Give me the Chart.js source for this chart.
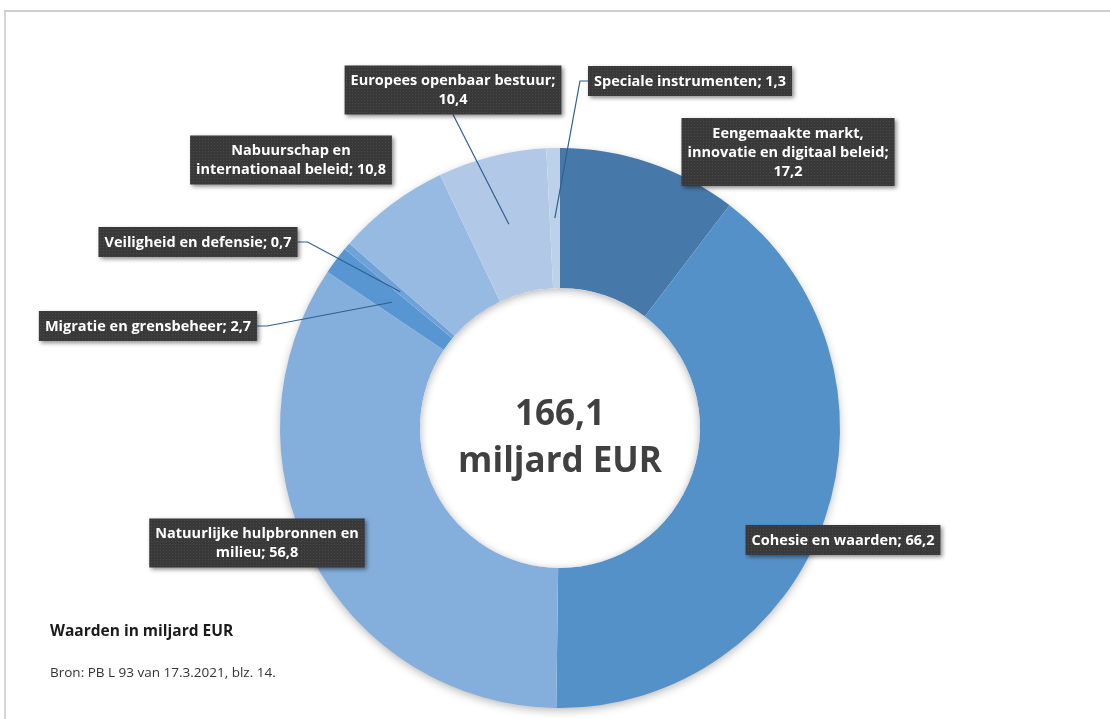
<!DOCTYPE html>
<html lang="nl">
<head>
<meta charset="utf-8">
<title>Begroting 2021</title>
<script src="https://cdn.jsdelivr.net/npm/chart.js@4.4.1/dist/chart.umd.min.js"></script>
<style>
  html, body { margin: 0; padding: 0; background: #fff; }
  #wrap { position: relative; width: 1110px; height: 719px; overflow: hidden; }
  #frame { position: absolute; left: 4px; top: 10px; right: -4px; bottom: -4px;
           border-top: 2px solid #cfcfcf; border-left: 2px solid #d6d6d6; }
  canvas { position: absolute; left: 0; top: 0; }
</style>
</head>
<body>
<div id="wrap">
  <div id="frame"></div>
  <canvas id="chart" width="1110" height="719"></canvas>
</div>
<script>
// Data for the chart (clockwise from the top)
const categories = [
  "Eengemaakte markt, innovatie en digitaal beleid",
  "Cohesie en waarden",
  "Natuurlijke hulpbronnen en milieu",
  "Migratie en grensbeheer",
  "Veiligheid en defensie",
  "Nabuurschap en internationaal beleid",
  "Europees openbaar bestuur",
  "Speciale instrumenten"
];
const values = [17.2, 66.2, 56.8, 2.7, 0.7, 10.8, 10.4, 1.3];
const centreText = ["166,1", "miljard EUR"];
const footNote = "Waarden in miljard EUR";
const source = "Bron: PB L 93 van 17.3.2021, blz. 14.";

const colors = ["#4679a9", "#5591c9", "#84afdd", "#5796d0", "#6fa3d8", "#97bae2", "#b1c9e7", "#bdd1eb"];

// words per line before each line break in the data labels
const labelBreaks = [[2, 4], [], [3], [], [], [2], [3], []];

// label box centres, and the side the leader line leaves from
const labelPlacement = [
  { x: 788, y: 152, side: null },
  { x: 843, y: 540, side: null },
  { x: 257, y: 543, side: null },
  { x: 148, y: 326, side: "right" },
  { x: 198, y: 242, side: "right" },
  { x: 291, y: 160, side: null },
  { x: 453, y: 90,  side: "bottom" },
  { x: 690, y: 81,  side: "left" }
];

const fmt = v => v.toFixed(1).replace(".", ",");

function labelLines(i) {
  const words = (categories[i] + "; " + fmt(values[i])).split(" ");
  const lines = [];
  let k = 0;
  labelBreaks[i].forEach(n => { lines.push(words.slice(k, k + n).join(" ")); k += n; });
  lines.push(words.slice(k).join(" "));
  return lines;
}

// dotted dark fill like the original label boxes
const pc = document.createElement("canvas");
pc.width = 3; pc.height = 3;
const pctx = pc.getContext("2d");
pctx.fillStyle = "#393939"; pctx.fillRect(0, 0, 3, 3);
pctx.fillStyle = "#4a4a4a"; pctx.fillRect(1, 1, 1, 1);

const ringShadow = {
  id: "ringShadow",
  beforeDatasetsDraw(chart) {
    const ctx = chart.ctx;
    const a = chart.getDatasetMeta(0).data[0];
    ctx.save();
    ctx.shadowColor = "rgba(0,0,0,0.30)";
    ctx.shadowBlur = 10;
    ctx.shadowOffsetY = 3;
    ctx.beginPath();
    ctx.arc(a.x, a.y, a.outerRadius - 1, 0, Math.PI * 2);
    ctx.fillStyle = "#fff";
    ctx.fill();
    ctx.restore();
  },
  afterDatasetsDraw(chart) {
    const ctx = chart.ctx;
    const a = chart.getDatasetMeta(0).data[0];
    ctx.save();
    ctx.beginPath();
    ctx.arc(a.x, a.y, a.innerRadius, 0, Math.PI * 2);
    ctx.clip();
    ctx.shadowColor = "rgba(0,0,0,0.30)";
    ctx.shadowBlur = 9;
    ctx.shadowOffsetY = 2;
    ctx.beginPath();
    ctx.arc(a.x, a.y, a.innerRadius + 10, 0, Math.PI * 2);
    ctx.lineWidth = 20;
    ctx.strokeStyle = "#fff";
    ctx.stroke();
    ctx.restore();
  }
};

const calloutLabels = {
  id: "calloutLabels",
  afterDraw(chart) {
    const ctx = chart.ctx;
    const arcs = chart.getDatasetMeta(0).data;
    const lineH = 19;
    ctx.save();
    ctx.font = "bold 14.5px 'Open Sans'";
    const pattern = ctx.createPattern(pc, "repeat");

    const boxes = labelPlacement.map((p, i) => {
      const lines = labelLines(i);
      const w = Math.max(...lines.map(l => ctx.measureText(l).width)) + 12;
      const h = lines.length * lineH + 11;
      return { lines, w, h, left: p.x - w / 2, top: p.y - h / 2, p };
    });

    // leader lines
    ctx.strokeStyle = "#2e5f8f";
    ctx.lineWidth = 1.2;
    boxes.forEach((b, i) => {
      if (!b.p.side) return;
      const c = arcs[i].getCenterPoint();
      ctx.beginPath();
      if (b.p.side === "right") {
        ctx.moveTo(b.left + b.w, b.p.y);
        ctx.lineTo(b.left + b.w + 10, b.p.y);
      } else if (b.p.side === "left") {
        ctx.moveTo(b.left, b.p.y);
        ctx.lineTo(b.left - 8, b.p.y);
      } else {
        ctx.moveTo(b.p.x, b.top + b.h);
      }
      ctx.lineTo(c.x, c.y);
      ctx.stroke();
    });

    // boxes and text
    boxes.forEach(b => {
      ctx.save();
      ctx.shadowColor = "rgba(0,0,0,0.45)";
      ctx.shadowBlur = 4;
      ctx.shadowOffsetX = 2;
      ctx.shadowOffsetY = 2;
      ctx.fillStyle = pattern;
      ctx.fillRect(b.left, b.top, b.w, b.h);
      ctx.restore();
      ctx.fillStyle = "#ffffff";
      ctx.textAlign = "center";
      ctx.textBaseline = "middle";
      b.lines.forEach((l, k) => {
        ctx.fillText(l, b.p.x, b.top + 5.5 + lineH * (k + 0.5) + 0.5);
      });
    });

    // centre text
    const a = arcs[0];
    ctx.fillStyle = "#404040";
    ctx.textAlign = "center";
    ctx.textBaseline = "alphabetic";
    ctx.font = "bold 35px 'Open Sans'";
    ctx.fillText(centreText[0], a.x, 425);
    ctx.fillText(centreText[1], a.x, 472);

    // notes
    ctx.textAlign = "left";
    ctx.fillStyle = "#1a1a1a";
    ctx.font = "bold 15.5px 'Open Sans'";
    ctx.fillText(footNote, 50, 636);
    ctx.fillStyle = "#333";
    ctx.font = "13.5px 'Open Sans'";
    ctx.fillText(source, 50, 677);
    ctx.restore();
  }
};

const config = {
  type: "doughnut",
  data: {
    labels: categories,
    datasets: [{
      data: values,
      backgroundColor: colors,
      borderWidth: 0,
      hoverOffset: 0
    }]
  },
  options: {
    responsive: false,
    animation: false,
    cutout: "50%",
    layout: { padding: { top: 148, bottom: 11, left: 280, right: 270 } },
    plugins: {
      legend: { display: false },
      tooltip: { enabled: false }
    }
  },
  plugins: [ringShadow, calloutLabels]
};

window.addEventListener("DOMContentLoaded", () => {
  new Chart(document.getElementById("chart"), config);
});
</script>
</body>
</html>
